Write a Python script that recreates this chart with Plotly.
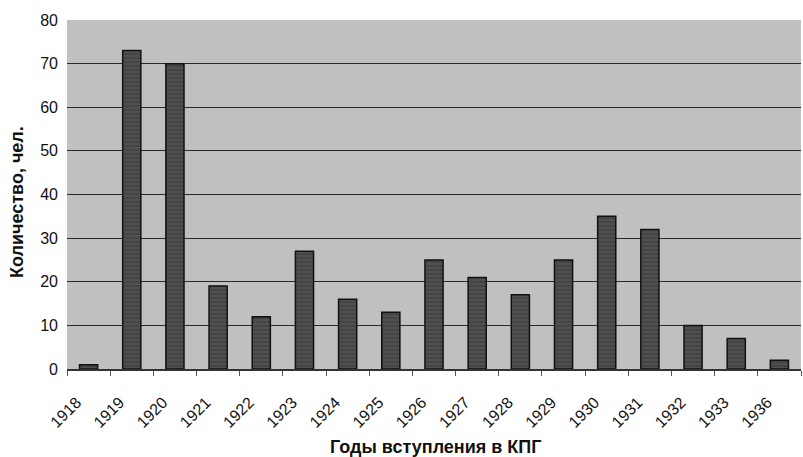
import plotly.graph_objects as go

years = ["1918", "1919", "1920", "1921", "1922", "1923", "1924", "1925", "1926",
         "1927", "1928", "1929", "1930", "1931", "1932", "1933", "1936"]
counts = [1, 73, 70, 19, 12, 27, 16, 13, 25, 21, 17, 25, 35, 32, 10, 7, 2]
y_ticks = [0, 10, 20, 30, 40, 50, 60, 70, 80]

FONT = "Liberation Sans, Arial, sans-serif"
L, R, T, B, W, H = 67, 2, 20, 88, 803, 457
PW, PH = W - L - R, H - T - B

fig = go.Figure(go.Bar(
    x=years, y=counts,
    marker=dict(
        color="#505050",
        line=dict(color="#111111", width=1.5),
        pattern=dict(shape="-", fgcolor="#2a2a2a", size=4, solidity=0.3),
    ),
    width=0.42,
))

fig.update_layout(
    width=W, height=H,
    margin=dict(l=L, r=R, t=T, b=B),
    paper_bgcolor="white",
    plot_bgcolor="#c0c0c0",
    showlegend=False,
    font=dict(family=FONT, color="#111111"),
    xaxis=dict(
        type="category",
        automargin=False,
        tickangle=-45,
        tickfont=dict(size=16, family=FONT, color="#111111"),
        ticks="outside", ticklen=5, tickcolor="#555555",
        tickson="boundaries",
        ticklabelstandoff=16,
        ticklabelshift=-12,
        showline=True, linecolor="#333333", linewidth=1.5,
        showgrid=False,
    ),
    yaxis=dict(
        automargin=False,
        range=[0, 80],
        tickvals=y_ticks,
        tickfont=dict(size=16, family=FONT, color="#111111"),
        ticklabelstandoff=8,
        showgrid=True, gridcolor="#2a2a2a", gridwidth=1.2,
        zeroline=False,
        ticks="", ticklen=0,
    ),
    annotations=[
        dict(text="<b>Годы вступления в КПГ</b>", xref="paper", yref="paper",
             x=(435 - L) / PW, y=(H - B - 447) / PH, xanchor="center", yanchor="middle",
             showarrow=False, font=dict(size=18, family=FONT, color="#111111")),
        dict(text="<b>Количество, чел.</b>", xref="paper", yref="paper",
             x=(17 - L) / PW, y=(H - B - 202) / PH, xanchor="center", yanchor="middle",
             textangle=-90, showarrow=False, font=dict(size=18, family=FONT, color="#111111")),
    ],
)

fig.write_html("out.html",
               config={"displayModeBar": False},
               post_script="document.body.style.margin='0';document.body.style.overflow='hidden';")
